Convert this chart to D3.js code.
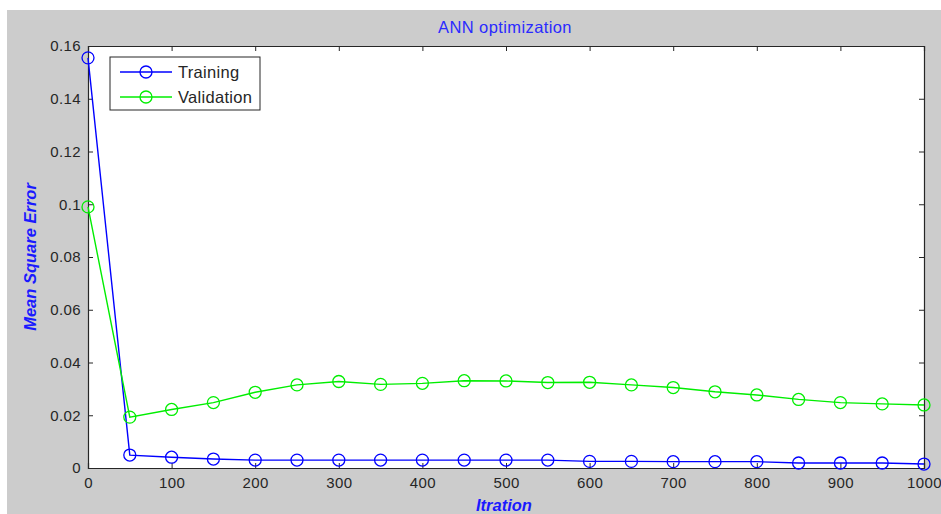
<!DOCTYPE html>
<html>
<head>
<meta charset="utf-8">
<script src="https://cdn.jsdelivr.net/npm/d3@7"></script>
<style>
  body { margin: 0; background: #fff; }
  text { font-family: "Liberation Sans", Arial, sans-serif; }
</style>
</head>
<body>
<div class="svg-container"></div>
<script>
var width = 941;
var height = 514;

var padding = { "top": 46, "right": 17, "bottom": 46, "left": 88 };

// data
var iterations = [0, 50, 100, 150, 200, 250, 300, 350, 400, 450, 500,
                  550, 600, 650, 700, 750, 800, 850, 900, 950, 1000];
var training = [0.1555, 0.0049, 0.0041, 0.0034, 0.0030, 0.0030, 0.0030, 0.0030, 0.0030, 0.0030, 0.0030,
                0.0030, 0.0025, 0.0025, 0.0024, 0.0024, 0.0024, 0.0019, 0.0019, 0.0019, 0.0015];
var validation = [0.0990, 0.0193, 0.0222, 0.0248, 0.0287, 0.0315, 0.0328, 0.0317, 0.0321, 0.0331, 0.0330,
                  0.0324, 0.0325, 0.0315, 0.0305, 0.0289, 0.0277, 0.0260, 0.0248, 0.0243, 0.0239];
var xTicks = [0, 100, 200, 300, 400, 500, 600, 700, 800, 900, 1000];
var yTicks = [0, 0.02, 0.04, 0.06, 0.08, 0.1, 0.12, 0.14, 0.16];
var seriesNames = ["Training", "Validation"];
var seriesColors = ["#0000ff", "#00ee00"];

var svg = d3.select(".svg-container").append("svg")
            .attr("width", width)
            .attr("height", height);

// figure background
svg.append("rect")
   .attr("x", 7).attr("y", 10)
   .attr("width", width - 7).attr("height", height - 10)
   .attr("fill", "#cccccc");

var scaleX = d3.scaleLinear()
               .domain([0, 1000])
               .range([padding.left, width - padding.right]);

var scaleY = d3.scaleLinear()
               .domain([0, 0.16])
               .range([height - padding.bottom, padding.top]);

var x0 = scaleX.range()[0], x1 = scaleX.range()[1];
var y0 = scaleY.range()[0], y1 = scaleY.range()[1];

// plot area
svg.append("rect")
   .attr("x", x0).attr("y", y1)
   .attr("width", x1 - x0).attr("height", y0 - y1)
   .attr("fill", "#ffffff");

var fmtY = function(d) { return d === 0 ? "0" : String(+d.toFixed(2)); };

// axes, ticks inside on all sides
svg.append("g")
   .attr("transform", "translate(0," + y0 + ")")
   .call(d3.axisBottom(scaleX).tickValues(xTicks).tickSize(-5).tickPadding(9).tickFormat(d3.format("d")));
svg.append("g")
   .attr("transform", "translate(0," + y1 + ")")
   .call(d3.axisTop(scaleX).tickValues(xTicks).tickSize(-5).tickFormat(""));
svg.append("g")
   .attr("transform", "translate(" + x0 + ",0)")
   .call(d3.axisLeft(scaleY).tickValues(yTicks).tickSize(-5).tickPadding(7).tickFormat(fmtY));
svg.append("g")
   .attr("transform", "translate(" + x1 + ",0)")
   .call(d3.axisRight(scaleY).tickValues(yTicks).tickSize(-5).tickFormat(""));

svg.selectAll(".domain").attr("stroke", "#262626").attr("stroke-width", 1.2);
svg.selectAll(".tick line").attr("stroke", "#262626");
svg.selectAll(".tick text")
   .attr("fill", "#262626")
   .style("font-size", "15px")
   .style("letter-spacing", "0.4px")
   .style("font-family", "'Liberation Sans', Arial, sans-serif");

// lines + circle markers
var seriesData = [training, validation];

seriesData.forEach(function(values, s) {
  var points = iterations.map(function(it, i) { return { x: it, y: values[i] }; });
  var line = d3.line()
               .x(function(d) { return scaleX(d.x); })
               .y(function(d) { return scaleY(d.y); });

  svg.append("path")
     .datum(points)
     .attr("fill", "none")
     .attr("stroke", seriesColors[s])
     .attr("stroke-width", 1.4)
     .attr("d", line);

  svg.append("g")
     .selectAll("circle")
     .data(points)
     .enter()
     .append("circle")
       .attr("cx", function(d) { return scaleX(d.x); })
       .attr("cy", function(d) { return scaleY(d.y); })
       .attr("r", 6)
       .attr("fill", "none")
       .attr("stroke", seriesColors[s])
       .attr("stroke-width", 1.3);
});

// legend
var legend = svg.append("g").attr("transform", "translate(110,57)");
legend.append("rect")
      .attr("width", 150).attr("height", 53)
      .attr("fill", "#ffffff")
      .attr("stroke", "#262626")
      .attr("stroke-width", 1);

seriesNames.forEach(function(name, i) {
  var ly = 15 + i * 25;
  legend.append("line")
        .attr("x1", 10).attr("x2", 62)
        .attr("y1", ly).attr("y2", ly)
        .attr("stroke", seriesColors[i])
        .attr("stroke-width", 1.4);
  legend.append("circle")
        .attr("cx", 36).attr("cy", ly).attr("r", 6)
        .attr("fill", "none")
        .attr("stroke", seriesColors[i])
        .attr("stroke-width", 1.3);
  legend.append("text")
        .attr("x", 68).attr("y", ly + 6)
        .attr("fill", "#262626")
        .style("font-size", "16.5px")
        .style("letter-spacing", "0.3px")
        .text(name);
});

// title and axis labels
svg.append("text")
   .attr("x", 505)
   .attr("y", 33)
   .attr("text-anchor", "middle")
   .attr("fill", "#2a2aff")
   .style("font-size", "16.5px")
   .style("letter-spacing", "0.4px")
   .text("ANN optimization");

svg.append("text")
   .attr("x", 504)
   .attr("y", 511)
   .attr("text-anchor", "middle")
   .attr("fill", "#1a1aff")
   .style("font-size", "16.5px")
   .style("font-weight", "bold")
   .style("font-style", "italic")
   .text("Itration");

svg.append("text")
   .attr("transform", "translate(36," + 257 + ") rotate(270)")
   .attr("text-anchor", "middle")
   .attr("fill", "#1a1aff")
   .style("font-size", "16.5px")
   .style("font-weight", "bold")
   .style("font-style", "italic")
   .text("Mean Square Error");
</script>
</body>
</html>
